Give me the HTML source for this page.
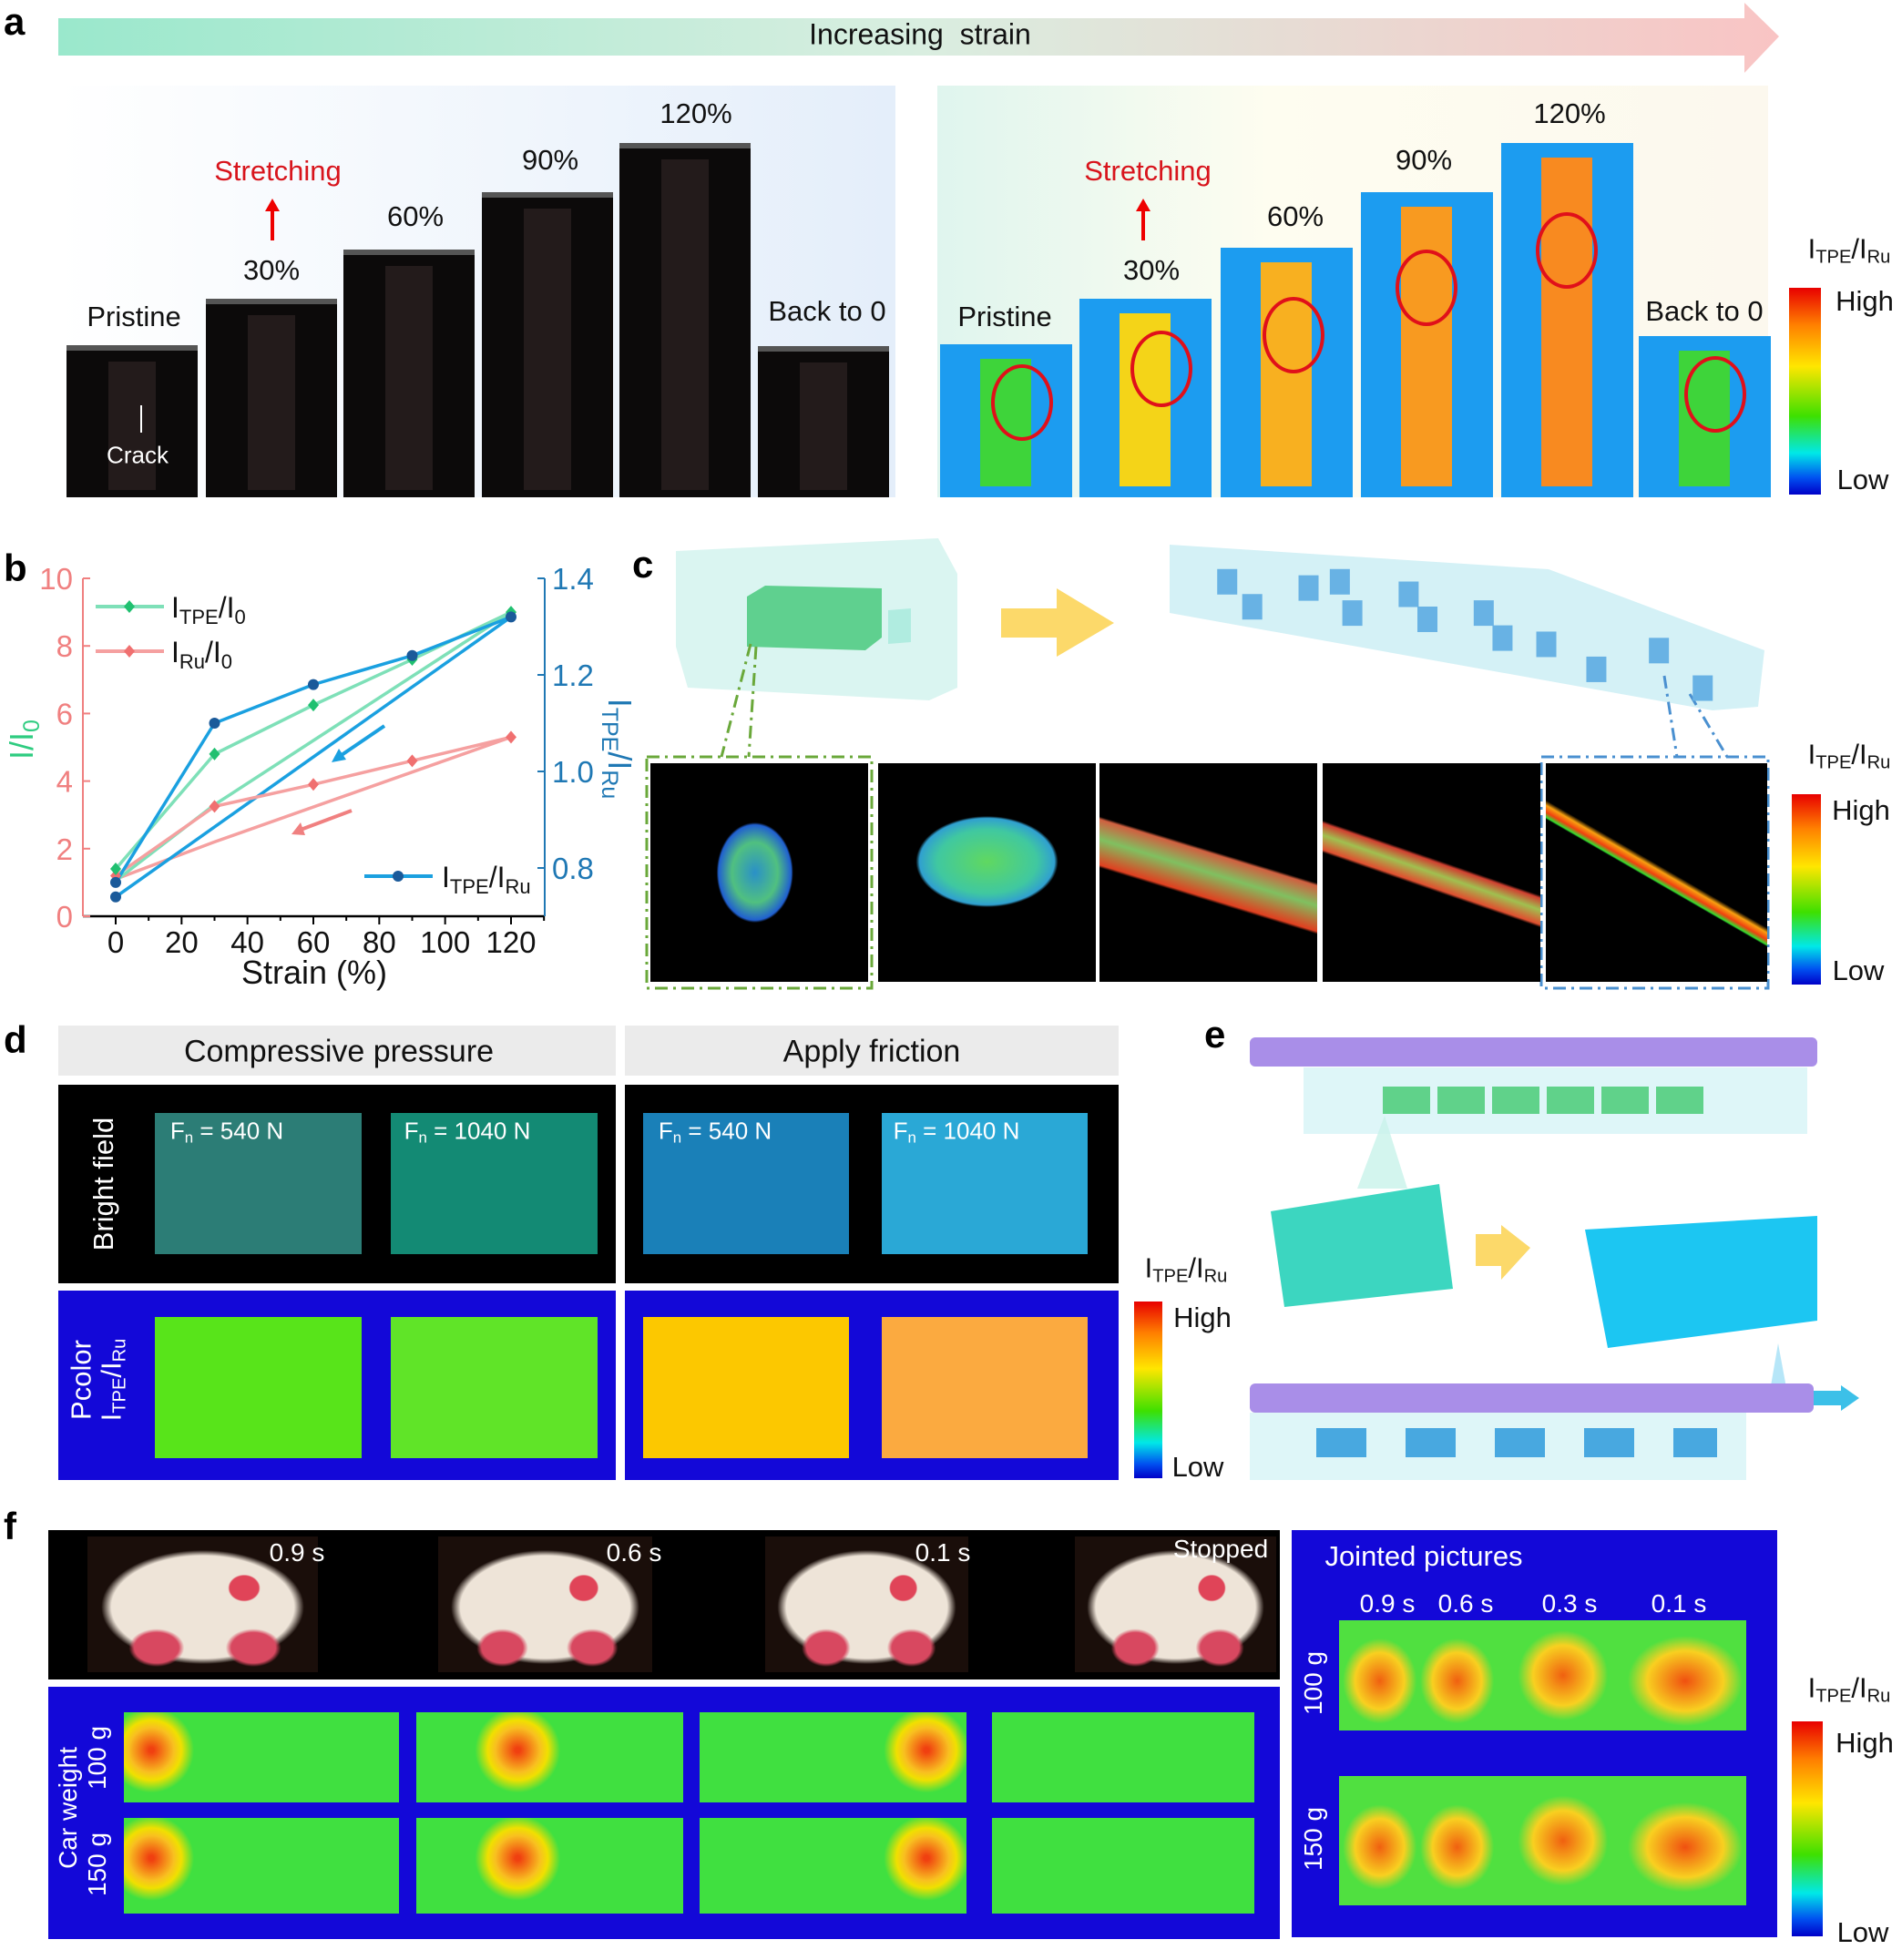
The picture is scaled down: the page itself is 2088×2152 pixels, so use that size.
<!DOCTYPE html>
<html><head><meta charset="utf-8"><style>
*{margin:0;padding:0;box-sizing:border-box}
body{width:2088px;height:2152px;position:relative;background:#fff;font-family:"Liberation Sans",sans-serif;overflow:hidden}
.a{position:absolute}
.t{position:absolute;white-space:nowrap;transform:translate(-50%,-50%);font-size:31px;color:#111}
.lbl{position:absolute;font-weight:bold;font-size:42px;color:#000}
.cb{position:absolute;background:linear-gradient(#e80000,#ff8000 18%,#ffe600 38%,#3ee000 62%,#00e8e8 80%,#0050f0 92%,#0000c8)}
sub{font-size:0.65em;vertical-align:-0.25em}
.heat{position:absolute}
</style></head><body>
<div class="lbl" style="left:4px;top:0">a</div>
<svg class="a" style="left:60px;top:0" width="1900" height="84">
<defs><linearGradient id="ag" x1="0" x2="1"><stop offset="0" stop-color="#9ae8cc"/><stop offset="0.5" stop-color="#d9eee0"/><stop offset="1" stop-color="#f9c4c4"/></linearGradient></defs>
<polygon points="4,20 1855,20 1855,3 1893,40 1855,80 1855,61 4,61" fill="url(#ag)"/></svg>
<div class="t" style="left:1010px;top:38px;font-size:32px">Increasing&nbsp; strain</div>
<div class="a" style="left:64px;top:94px;width:919px;height:452px;background:linear-gradient(90deg,#fff,#e4eefa)"></div>
<div class="a" style="left:1029px;top:94px;width:912px;height:452px;background:linear-gradient(90deg,#dff5ee,#fefdf0 40%,#fcf8ee)"></div>
<div id="strips"></div>
<div class="t" style="left:147px;top:348px">Pristine</div>
<div class="t" style="left:298px;top:297px">30%</div>
<div class="t" style="left:456px;top:238px">60%</div>
<div class="t" style="left:604px;top:176px">90%</div>
<div class="t" style="left:764px;top:125px">120%</div>
<div class="t" style="left:908px;top:342px">Back to 0</div>
<div class="t" style="left:305px;top:188px;color:#d8141c">Stretching</div>
<div class="a" style="left:297px;top:226px;width:4px;height:38px;background:#e00"></div>
<div class="a" style="left:291px;top:218px;border-left:8px solid transparent;border-right:8px solid transparent;border-bottom:14px solid #e00"></div>
<div class="t" style="left:151px;top:500px;color:#fff;font-size:26px">Crack</div>
<div class="a" style="left:154px;top:445px;width:2px;height:30px;background:#fff"></div>
<div class="t" style="left:1103px;top:348px">Pristine</div>
<div class="t" style="left:1264px;top:297px">30%</div>
<div class="t" style="left:1422px;top:238px">60%</div>
<div class="t" style="left:1563px;top:176px">90%</div>
<div class="t" style="left:1723px;top:125px">120%</div>
<div class="t" style="left:1871px;top:342px">Back to 0</div>
<div class="t" style="left:1260px;top:188px;color:#d8141c">Stretching</div>
<div class="a" style="left:1253px;top:226px;width:4px;height:38px;background:#e00"></div>
<div class="a" style="left:1247px;top:218px;border-left:8px solid transparent;border-right:8px solid transparent;border-bottom:14px solid #e00"></div>
<div class="cb" style="left:1964px;top:316px;width:35px;height:227px"></div>
<div class="t" style="left:2030px;top:275px">I<sub>TPE</sub>/I<sub>Ru</sub></div>
<div class="t" style="left:2047px;top:331px">High</div>
<div class="t" style="left:2045px;top:527px">Low</div>

<div class="lbl" style="left:4px;top:600px">b</div>
<svg id="chart" class="a" style="left:0;top:600px" width="700" height="500"></svg>

<div class="lbl" style="left:694px;top:596px">c</div>
<svg id="csvg" class="a" style="left:700px;top:580px" width="1388" height="520">
<polygon points="42,25 330,11 351,50 351,175 320,189 55,175 42,130" fill="#d6f4ef" opacity="0.9"/>
<polygon points="120,75 140,63 268,66 268,120 250,134 120,130" fill="#5fd08f"/>
<polygon points="275,90 300,88 300,125 275,127" fill="#b0ece0"/>
<polygon points="399,88 460,88 460,66 523,104 460,141 460,120 399,120" fill="#fcd96a"/>
<polygon points="584,18 1000,45 1237,134 1230,196 1180,200 584,93" fill="#d4f1f6"/>
<path d="M124,127 L92,251 M130,130 L122,251" stroke="#6aa83a" stroke-width="3" stroke-dasharray="14,6,3,6" fill="none"/>
<path d="M1127,162 L1141,251 M1155,182 L1196,251" stroke="#4a90d0" stroke-width="3" stroke-dasharray="14,6,3,6" fill="none"/>
<rect x="10" y="251" width="247" height="254" fill="none" stroke="#6aa83a" stroke-width="3" stroke-dasharray="14,6,3,6"/>
<rect x="992" y="251" width="249" height="254" fill="none" stroke="#4a90d0" stroke-width="3" stroke-dasharray="14,6,3,6"/>
</svg>
<div id="cimgs"></div>
<div class="cb" style="left:1967px;top:872px;width:32px;height:209px"></div>
<div class="t" style="left:2030px;top:830px">I<sub>TPE</sub>/I<sub>Ru</sub></div>
<div class="t" style="left:2043px;top:890px">High</div>
<div class="t" style="left:2040px;top:1066px">Low</div>

<div class="lbl" style="left:4px;top:1118px">d</div>
<div class="a" style="left:64px;top:1126px;width:612px;height:55px;background:#ebebeb"></div>
<div class="a" style="left:686px;top:1126px;width:542px;height:55px;background:#ebebeb"></div>
<div class="t" style="left:372px;top:1155px;font-size:34px">Compressive pressure</div>
<div class="t" style="left:957px;top:1155px;font-size:34px">Apply friction</div>
<div class="a" style="left:64px;top:1191px;width:612px;height:218px;background:#000"></div>
<div class="a" style="left:686px;top:1191px;width:542px;height:218px;background:#000"></div>
<div class="a" style="left:64px;top:1417px;width:612px;height:208px;background:#1308d8"></div>
<div class="a" style="left:686px;top:1417px;width:542px;height:208px;background:#1308d8"></div>
<div class="a" style="left:170px;top:1222px;width:227px;height:155px;background:#2c7d76"></div>
<div class="a" style="left:429px;top:1222px;width:227px;height:155px;background:#138a74"></div>
<div class="a" style="left:706px;top:1222px;width:226px;height:155px;background:#1a80b8"></div>
<div class="a" style="left:968px;top:1222px;width:226px;height:155px;background:#2aa8d6"></div>
<div class="a" style="left:170px;top:1446px;width:227px;height:155px;background:#58e41a"></div>
<div class="a" style="left:429px;top:1446px;width:227px;height:155px;background:#60e428"></div>
<div class="a" style="left:706px;top:1446px;width:226px;height:155px;background:#fcc800"></div>
<div class="a" style="left:968px;top:1446px;width:226px;height:155px;background:#fbaa40"></div>
<div class="t" style="left:249px;top:1243px;color:#fff;font-size:26px">F<sub>n</sub> = 540 N</div>
<div class="t" style="left:513px;top:1243px;color:#fff;font-size:26px">F<sub>n</sub> = 1040 N</div>
<div class="t" style="left:785px;top:1243px;color:#fff;font-size:26px">F<sub>n</sub> = 540 N</div>
<div class="t" style="left:1050px;top:1243px;color:#fff;font-size:26px">F<sub>n</sub> = 1040 N</div>
<div class="t" style="left:114px;top:1300px;color:#fff;transform:translate(-50%,-50%) rotate(-90deg)">Bright field</div>
<div class="t" style="left:108px;top:1515px;color:#fff;line-height:1.05;text-align:center;transform:translate(-50%,-50%) rotate(-90deg)">Pcolor<br>I<sub>TPE</sub>/I<sub>Ru</sub></div>
<div class="cb" style="left:1245px;top:1429px;width:31px;height:194px"></div>
<div class="t" style="left:1302px;top:1394px">I<sub>TPE</sub>/I<sub>Ru</sub></div>
<div class="t" style="left:1320px;top:1447px">High</div>
<div class="t" style="left:1315px;top:1611px">Low</div>

<div class="lbl" style="left:1322px;top:1112px">e</div>
<div class="a" style="left:1372px;top:1139px;width:623px;height:32px;background:#a98ee8;border-radius:6px"></div>
<div class="a" style="left:1431px;top:1172px;width:553px;height:73px;background:#def6f8"></div>
<div class="a" style="left:1518px;top:1193px;width:353px;height:30px;background:repeating-linear-gradient(90deg,#60d28a 0 52px,transparent 52px 60px)"></div>
<svg class="a" style="left:1370px;top:1220px" width="680" height="400">
<polygon points="150,5 120,85 175,85" fill="#c8f2ea" opacity="0.8"/>
<polygon points="25,110 210,80 225,195 40,215" fill="#3cd6c0"/>
<polygon points="278,125 310,150 278,185 278,170 250,170 250,135 278,135" fill="#fcd96a"/>
<polygon points="370,130 625,115 625,230 395,260" fill="#1cc6f2"/>
<polygon points="582,255 595,325 570,325" fill="#b6e6f8"/>
</svg>
<div class="a" style="left:1372px;top:1519px;width:619px;height:32px;background:#a98ee8;border-radius:6px"></div>
<div class="a" style="left:1991px;top:1527px;width:30px;height:16px;background:#3cc0e8"></div>
<div class="a" style="left:2021px;top:1521px;border-top:14px solid transparent;border-bottom:14px solid transparent;border-left:20px solid #3cc0e8"></div>
<div class="a" style="left:1372px;top:1551px;width:545px;height:74px;background:#def6f8"></div>
<div class="a" style="left:1445px;top:1568px;width:440px;height:32px;background:repeating-linear-gradient(90deg,#48a8e0 0 55px,transparent 55px 98px)"></div>

<div class="lbl" style="left:4px;top:1652px">f</div>
<div class="a" style="left:53px;top:1680px;width:1352px;height:164px;background:#000"></div>
<div class="a" style="left:53px;top:1852px;width:1352px;height:277px;background:#1308d8"></div>
<div class="a" style="left:1418px;top:1680px;width:533px;height:447px;background:#1308d8"></div>
<div id="fimgs"></div>
<div class="t" style="left:326px;top:1705px;color:#fff;font-size:28px">0.9 s</div>
<div class="t" style="left:696px;top:1705px;color:#fff;font-size:28px">0.6 s</div>
<div class="t" style="left:1035px;top:1705px;color:#fff;font-size:28px">0.1 s</div>
<div class="t" style="left:1340px;top:1701px;color:#fff;font-size:28px">Stopped</div>
<div class="t" style="left:1563px;top:1709px;color:#fff;font-size:31px">Jointed pictures</div>
<div class="t" style="left:1523px;top:1761px;color:#fff;font-size:28px">0.9 s</div>
<div class="t" style="left:1609px;top:1761px;color:#fff;font-size:28px">0.6 s</div>
<div class="t" style="left:1723px;top:1761px;color:#fff;font-size:28px">0.3 s</div>
<div class="t" style="left:1843px;top:1761px;color:#fff;font-size:28px">0.1 s</div>
<div class="t" style="left:1442px;top:1848px;color:#fff;font-size:28px;transform:translate(-50%,-50%) rotate(-90deg)">100 g</div>
<div class="t" style="left:1442px;top:2019px;color:#fff;font-size:28px;transform:translate(-50%,-50%) rotate(-90deg)">150 g</div>
<div class="t" style="left:75px;top:1985px;color:#fff;font-size:28px;transform:translate(-50%,-50%) rotate(-90deg)">Car weight</div>
<div class="t" style="left:107px;top:1930px;color:#fff;font-size:28px;transform:translate(-50%,-50%) rotate(-90deg)">100 g</div>
<div class="t" style="left:107px;top:2047px;color:#fff;font-size:28px;transform:translate(-50%,-50%) rotate(-90deg)">150 g</div>
<div class="cb" style="left:1967px;top:1890px;width:34px;height:236px"></div>
<div class="t" style="left:2030px;top:1855px">I<sub>TPE</sub>/I<sub>Ru</sub></div>
<div class="t" style="left:2047px;top:1914px">High</div>
<div class="t" style="left:2045px;top:2122px">Low</div>

<script>
// ---- panel a strips ----
const stripsL=[[73,379],[226,328],[377,274],[529,211],[680,157],[832,380]];
const stripsR=[[1032,378,'#3ed43a'],[1185,328,'#f4d418'],[1340,272,'#f8b020'],[1494,211,'#f89a20'],[1648,157,'#f88a20'],[1799,369,'#3ed43a']];
const circ=[[1122,442],[1275,405],[1420,368],[1566,316],[1720,275],[1883,433]];
const S=document.getElementById('strips');
stripsL.forEach((s,i)=>{const d=document.createElement('div');d.className='a';


d.style.cssText=`left:${s[0]}px;top:${s[1]}px;width:144px;height:${546-s[1]}px;background:#0c0a0a;border-top:6px solid #555`;
const k=document.createElement('div');k.className='a';k.style.cssText='left:46px;top:12px;width:52px;bottom:8px;background:#231b1b';d.appendChild(k);S.appendChild(d);});
stripsR.forEach((s,i)=>{const d=document.createElement('div');d.className='a';


d.style.cssText=`left:${s[0]}px;top:${s[1]}px;width:145px;height:${546-s[1]}px;background:#1c9cf0`;
const k=document.createElement('div');k.className='a';k.style.cssText=`left:44px;top:16px;width:56px;bottom:12px;background:${s[2]}`;d.appendChild(k);S.appendChild(d);
const c=document.createElement('div');c.className='a';


c.style.cssText=`left:${circ[i][0]-34}px;top:${circ[i][1]-42}px;width:68px;height:84px;border:4px solid #e0101a;border-radius:50%`;S.appendChild(c);});
// ---- panel c cubes ----
const cubeD=[[980,465],[1000,485],[1045,470],[1070,465],[1080,490],[1125,475],[1140,495],[1185,490],[1200,510],[1235,515],[1275,535],[1325,520],[1360,550]];
const cs=document.getElementById('csvg');
cubeD.forEach(p=>{const r=document.createElementNS('http://www.w3.org/2000/svg','rect');


r.setAttribute('x',p[0]*1.3737-700-10);r.setAttribute('y',p[1]*1.3737-580-14);r.setAttribute('width',22);r.setAttribute('height',28);r.setAttribute('fill','#68b2e4');cs.appendChild(r);});
// ---- panel c images ----
const cx=[714,964,1207,1452,1697];const C=document.getElementById('cimgs');
const cg=['radial-gradient(ellipse 42px 55px at 48% 50%,#2a90c8,#50c080 60%,#2060d0 95%,#000 100%)','radial-gradient(ellipse 78px 50px at 50% 45%,#60d860,#40c8a0 70%,#30a0d0 95%,#000 100%)','linear-gradient(17deg,#000 40%,#e04020 41%,#80c060 50%,#d06040 57%,#000 58%)','linear-gradient(19deg,#000 44%,#e05030 45%,#a0c050 50%,#d04030 54%,#000 55%)','linear-gradient(30deg,#000 47%,#30e030 47.5%,#f04010 49%,#f8a010 51%,#000 52.5%)'];
cx.forEach((x,i)=>{const d=document.createElement('div');d.className='a';


d.style.cssText=`left:${x}px;top:838px;width:${i==4?243:239}px;height:240px;background:${cg[i]}`;C.appendChild(d);});
// ---- panel f ----
const F=document.getElementById('fimgs');
const cars=[[96,253],[481,235],[840,223],[1180,221]];
cars.forEach(c=>{const d=document.createElement('div');d.className='a';


d.style.cssText=`left:${c[0]}px;top:1687px;width:${c[1]}px;height:149px;background:radial-gradient(ellipse 7% 10% at 68% 38%,#e04458 90%,transparent 100%),radial-gradient(ellipse 12% 14% at 30% 82%,#d84860 80%,transparent 100%),radial-gradient(ellipse 12% 14% at 72% 82%,#d84860 80%,transparent 100%),radial-gradient(ellipse 44% 42% at 50% 52%,#eee4d8 90%,transparent 100%),#1a0e0a`;F.appendChild(d);});
const hx=[[136,302,10],[457,293,38],[768,293,85],[1089,288,-1]];
[[1880,99],[1996,105]].forEach(r=>hx.forEach(h=>{const d=document.createElement('div');d.className='heat';


const blob=h[2]<0?'':`radial-gradient(ellipse 55px 55px at ${h[2]}% 42%,#f04010 5%,#f8c020 45%,#f0e000 60%,transparent 85%),`;
d.style.cssText=`left:${h[0]}px;top:${r[0]}px;width:${h[1]}px;height:${r[1]}px;background:${blob}#40e040`;F.appendChild(d);}));
[[1779,121],[1950,142]].forEach(r=>{const d=document.createElement('div');d.className='heat';


d.style.cssText=`left:1470px;top:${r[0]}px;width:447px;height:${r[1]}px;background:radial-gradient(ellipse 45px 52px at 10% 55%,#f06010,#f8d020 60%,transparent 90%),radial-gradient(ellipse 45px 52px at 29% 55%,#f06010,#f8d020 60%,transparent 90%),radial-gradient(ellipse 55px 55px at 55% 50%,#f06010,#f8d020 60%,transparent 90%),radial-gradient(ellipse 70px 55px at 85% 55%,#f05010,#f8d020 60%,transparent 90%),#50e040`;F.appendChild(d);});

// ---- chart panel b ----
const strain=[0,30,60,90,120];
const tpeUp=[1.4,4.8,6.25,7.6,9.0];
const ruUp=[1.2,3.25,3.9,4.6,5.3];
const ratioUp=[0.77,1.10,1.18,1.24,1.32];
const backStrain=[120,30,0];
const tpeBack=[9.0,3.3,1.05];
const ruBack=[5.3,2.2,1.1];
const ratioBackStrain=[120,0];
const ratioBack=[1.32,0.74];
const xTicks=[0,20,40,60,80,100,120];
const yLTicks=[0,2,4,6,8,10];
const yRTicks=[0.8,1.0,1.2,1.4];
const X=v=>127+v*(434/120), YL=v=>406-v*37.1, YR=v=>35+(1.4-v)*530;
const svg=document.getElementById('chart');const NS='http://www.w3.org/2000/svg';
function el(t,a,txt){const e=document.createElementNS(NS,t);for(const k in a)e.setAttribute(k,a[k]);if(txt!==undefined)e.innerHTML=txt;svg.appendChild(e);return e;}
let e;
e=el('line',{x1:91,y1:406,x2:598,y2:406,stroke:'#000','stroke-width':2.5});
e=el('line',{x1:91,y1:35,x2:91,y2:406,stroke:'#f08080','stroke-width':2});
e=el('line',{x1:598,y1:35,x2:598,y2:406,stroke:'#1f78b4','stroke-width':2});
for(let v=-10;v<=130;v+=10){if(X(v)<91||X(v)>598)continue;el('line',{x1:X(v),y1:406,x2:X(v),y2:v%20==0?415:411,stroke:'#000','stroke-width':2});}
xTicks.forEach(v=>{e=el('text',{x:X(v),y:446,'text-anchor':'middle','font-size':33,fill:'#111'},v);});
yLTicks.forEach(v=>{el('line',{x1:91,y1:YL(v),x2:99,y2:YL(v),stroke:'#f08080','stroke-width':2});e=el('text',{x:80,y:YL(v)+12,'text-anchor':'end','font-size':33,fill:'#f08080'},v);});
yRTicks.forEach(v=>{el('line',{x1:590,y1:YR(v),x2:598,y2:YR(v),stroke:'#1f78b4','stroke-width':2});e=el('text',{x:606,y:YR(v)+12,'font-size':33,fill:'#1f78b4'},v.toFixed(1));});
e=el('text',{x:345,y:480,'text-anchor':'middle','font-size':36,fill:'#111'},'Strain (%)');
e=el('text',{x:0,y:0,transform:'translate(36,212) rotate(-90)','text-anchor':'middle','font-size':36,fill:'#2ecc80'},'I/I<tspan font-size="25" dy="7">0</tspan>');
e=el('text',{x:0,y:0,transform:'translate(668,222) rotate(90)','text-anchor':'middle','font-size':36,fill:'#1f78b4'},'I<tspan font-size="25" dy="7">TPE</tspan><tspan dy="-7">/I</tspan><tspan font-size="25" dy="7">Ru</tspan>');
function line(xs,ys,yf,c,name){e=el('polyline',{points:xs.map((x,i)=>X(x)+','+yf(ys[i])).join(' '),fill:'none',stroke:c,'stroke-width':3.5});}
line(backStrain,ruBack,YL,'#f5a0a0','ru-unload-line');
line(backStrain,tpeBack,YL,'#7ee0b8','tpe-unload-line');
line(ratioBackStrain,ratioBack,YR,'#1aa0e0','ratio-unload-line');
line(strain,ruUp,YL,'#f5a0a0','ru-load-line');
line(strain,tpeUp,YL,'#7ee0b8','tpe-load-line');
line(strain,ratioUp,YR,'#1aa0e0','ratio-load-line');
function dia(x,y,c){e=el('polygon',{points:`${x},${y-7} ${x+6},${y} ${x},${y+7} ${x-6},${y}`,fill:c});return e;}
strain.forEach((s,i)=>{e=dia(X(s),YL(ruUp[i]),'#f07070');});
strain.forEach((s,i)=>{e=dia(X(s),YL(tpeUp[i]),'#20c070');});
strain.forEach((s,i)=>{e=el('circle',{cx:X(s),cy:YR(ratioUp[i]),r:6,fill:'#1a5a9a'});});
e=el('circle',{cx:X(0),cy:YR(ratioBack[1]),r:6,fill:'#1a5a9a'});
// arrows
el('line',{x1:422,y1:197,x2:372,y2:231,stroke:'#1aa0e0','stroke-width':4});el('polygon',{points:'364,237 372,222 380,234',fill:'#1aa0e0'});
el('line',{x1:386,y1:290,x2:330,y2:311,stroke:'#f08080','stroke-width':4});el('polygon',{points:'320,316 330,303 335,317',fill:'#f08080'});
// legend
el('line',{x1:105,y1:66,x2:180,y2:66,stroke:'#7ee0b8','stroke-width':4});dia(142,66,'#20c070');
e=el('text',{x:188,y:78,'font-size':32,fill:'#111'},'I<tspan font-size="22" dy="7">TPE</tspan><tspan dy="-7">/I</tspan><tspan font-size="22" dy="7">0</tspan>');
el('line',{x1:105,y1:115,x2:180,y2:115,stroke:'#f5a0a0','stroke-width':4});dia(142,115,'#f07070');
e=el('text',{x:188,y:127,'font-size':32,fill:'#111'},'I<tspan font-size="22" dy="7">Ru</tspan><tspan dy="-7">/I</tspan><tspan font-size="22" dy="7">0</tspan>');
el('line',{x1:400,y1:362,x2:475,y2:362,stroke:'#1aa0e0','stroke-width':4});el('circle',{cx:437,cy:362,r:6,fill:'#1a5a9a'});
e=el('text',{x:485,y:374,'font-size':32,fill:'#111'},'I<tspan font-size="22" dy="7">TPE</tspan><tspan dy="-7">/I</tspan><tspan font-size="22" dy="7">Ru</tspan>');
</script>
</body></html>
